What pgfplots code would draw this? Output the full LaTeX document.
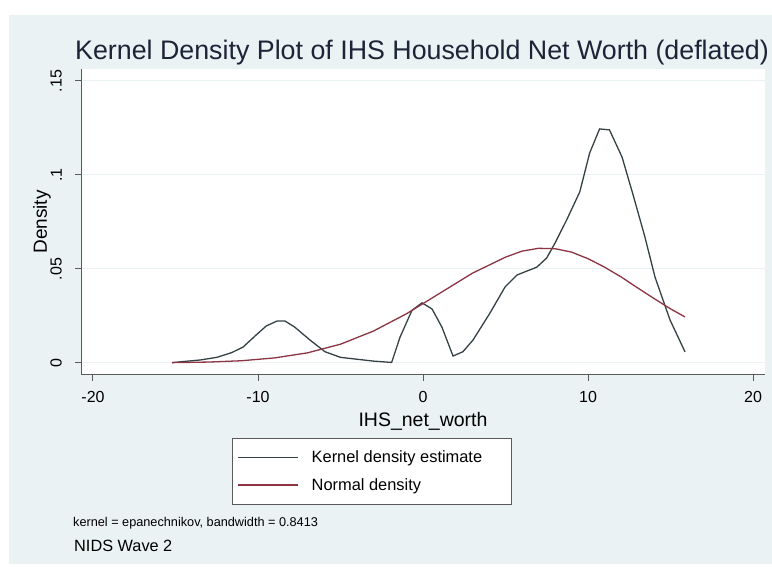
\documentclass[border=0pt]{standalone}
\usepackage{pgfplots}
\pgfplotsset{compat=1.18}
\usepackage{fontspec}
\setmainfont{Liberation Sans}

\definecolor{graphbg}{RGB}{234,242,243}
\definecolor{kdecol}{RGB}{52,66,70}
\definecolor{normcol}{RGB}{140,52,68}
\definecolor{axiscol}{RGB}{90,90,90}
\definecolor{titlecol}{RGB}{28,36,56}

\begin{document}
\begin{tikzpicture}[x=1bp,y=1bp]
\useasboundingbox (0,0) rectangle (772,567);
\fill[white] (0,0) rectangle (772,567);
\fill[graphbg] (9,3) rectangle (772,552);
\begin{axis}[
  at={(81bp,192bp)}, anchor=south west,
  scale only axis, width=684bp, height=306bp,
  xmin=-20.727, xmax=20.727, ymin=-0.00638, ymax=0.15638,
  axis x line*=bottom, axis y line*=left,
  axis line style={axiscol, line width=1bp},
  axis background/.style={fill=white},
  xtick={-20,-10,0,10,20}, xticklabels={-20,-10,0,10,20},
  ytick={0,0.05,0.1,0.15}, yticklabels={0,.05,.1,.15},
  minor tick num=0,
  tick align=outside, major tick length=6bp,
  tick style={axiscol, line width=1bp},
  ymajorgrids, grid style={graphbg, line width=1bp},
  ticklabel style={font=\fontsize{16bp}{19bp}\selectfont},
  xticklabel style={inner sep=0pt, yshift=-10bp},
  yticklabel style={xshift=-13bp, rotate=90, anchor=south, inner sep=0pt},
  xlabel={IHS\_net\_worth}, ylabel={Density},
  xlabel style={at={(axis description cs:0.5,0)}, anchor=north, inner sep=0pt, yshift=-37bp, font=\fontsize{19.5bp}{23bp}\selectfont},
  ylabel style={at={(axis description cs:-0.0439,0.5)}, anchor=south, inner sep=0pt, font=\fontsize{19bp}{23bp}\selectfont},
  legend style={at={(axis description cs:0.2208,-0.2059)}, anchor=north west,
    draw=axiscol, line width=0.8bp, fill=white, inner xsep=5bp, inner ysep=12.5bp,
    row sep=14bp, font=\fontsize{16.4bp}{19bp}\selectfont, nodes={inner sep=0pt}},
  legend cell align=left,
  legend image code/.code={\draw[#1] (0bp,0bp) -- (60bp,0bp);},
]
% kernel density estimate
\addplot[kdecol, line width=1.3bp] coordinates {
  (-15.2,0.0002) (-14.5,0.0008) (-13.5,0.0016) (-12.5,0.0030) (-11.6,0.0055)
  (-10.9,0.0085) (-10.1,0.0150) (-9.5,0.0197) (-8.85,0.0223) (-8.36,0.0223)
  (-7.76,0.0190) (-6.85,0.0122) (-5.94,0.0060) (-5.0,0.0030) (-4.0,0.0020)
  (-3.0,0.0010) (-1.9,0.0003) (-1.39,0.0138) (-0.67,0.0280) (-0.06,0.0320)
  (0.55,0.0287) (1.15,0.0190) (1.82,0.0037) (2.42,0.0060) (3.03,0.0122)
  (4.06,0.0266) (4.97,0.0404) (5.7,0.0468) (6.9,0.0510) (7.5,0.0559)
  (8.0,0.0638) (8.7,0.0760) (9.5,0.0910) (10.1,0.1117) (10.7,0.1245)
  (11.3,0.1240) (12.06,0.1096) (12.7,0.0904) (13.45,0.0670) (14.06,0.0457)
  (14.97,0.0229) (15.88,0.0059)
};
\addlegendentry{\makebox[208bp][l]{\hspace{13bp}Kernel density estimate}}
% normal density
\addplot[normcol, line width=1.3bp] coordinates {
  (-15.2,0.0002) (-13,0.0005) (-11,0.0012) (-9,0.0027) (-7,0.0054)
  (-5,0.0100) (-3,0.0170) (-1,0.0262) (1,0.0370) (3,0.0478)
  (5,0.0563) (6,0.0595) (7,0.0610) (8,0.0608) (9,0.0590)
  (10,0.0555) (11,0.0510) (12,0.0458) (13,0.0400) (14,0.0343)
  (15,0.0288) (15.88,0.0245)
};
\addlegendentry{\makebox[208bp][l]{\hspace{13bp}Normal density}}
\end{axis}
\node[anchor=base west, text=titlecol, inner sep=0pt, font=\fontsize{26.8bp}{32bp}\selectfont] at (75,507) {Kernel Density Plot of IHS Household Net Worth (deflated)};
\node[anchor=base west, inner sep=0pt, font=\fontsize{12.7bp}{15bp}\selectfont] at (73,40) {kernel = epanechnikov, bandwidth = 0.8413};
\node[anchor=base west, inner sep=0pt, font=\fontsize{16.3bp}{19bp}\selectfont] at (74,15) {NIDS Wave 2};
\end{tikzpicture}
\end{document}
